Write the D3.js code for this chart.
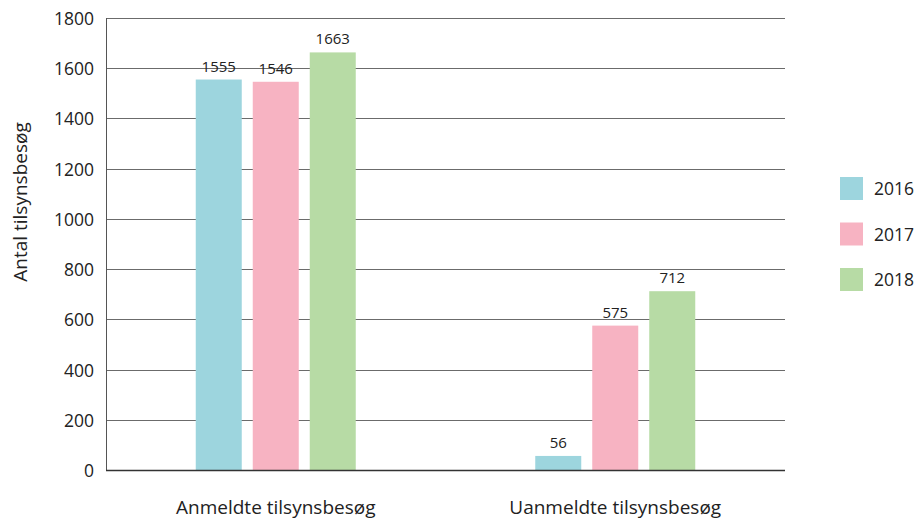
<!DOCTYPE html>
<html>
<head>
<meta charset="utf-8">
<script src="https://cdn.jsdelivr.net/npm/d3@7"></script>
<style>
  body { margin: 0; background: #fff; }
  svg { display: block; font-family: "Open Sans", "Noto Sans", sans-serif; }
</style>
</head>
<body>
<svg id="chart" width="920" height="518"></svg>
<script>
// Data
const categories = ["Anmeldte tilsynsbesøg", "Uanmeldte tilsynsbesøg"];
const years = ["2016", "2017", "2018"];
const values2016 = [1555, 56];
const values2017 = [1546, 575];
const values2018 = [1663, 712];
const yTicks = [0, 200, 400, 600, 800, 1000, 1200, 1400, 1600, 1800];

const seriesValues = { "2016": values2016, "2017": values2017, "2018": values2018 };
const colorScale = d3.scaleOrdinal().domain(years).range(["#9dd5de", "#f7b3c2", "#b7dba5"]);

const svg = d3.select("#chart");
const margin = { top: 18, right: 135, bottom: 48, left: 106 };
const width = 920, height = 518;
const innerWidth = width - margin.left - margin.right;
const innerHeight = height - margin.top - margin.bottom;

const chart = svg.append("g").attr("transform", `translate(${margin.left},${margin.top})`);

const y = d3.scaleLinear().domain([0, 1800]).range([innerHeight, 0]);
const x0 = d3.scaleBand().domain(categories).range([0, innerWidth]).padding(0);
const x1 = d3.scaleBand().domain(years).range([-80, 80]).paddingInner(11 / 57).paddingOuter(0);

// Gridlines
chart.append("g")
  .selectAll("line")
  .data(yTicks)
  .join("line")
  .attr("x1", 0)
  .attr("x2", innerWidth)
  .attr("y1", d => Math.round(y(d)) + 0.5)
  .attr("y2", d => Math.round(y(d)) + 0.5)
  .attr("stroke", "#6b6b6b")
  .attr("stroke-width", 1);

// Left axis line
chart.append("line")
  .attr("x1", 0.5).attr("x2", 0.5)
  .attr("y1", 0).attr("y2", innerHeight)
  .attr("stroke", "#555");

// Y tick labels
chart.append("g")
  .selectAll("text")
  .data(yTicks)
  .join("text")
  .attr("x", -12)
  .attr("y", d => y(d) + 7)
  .attr("text-anchor", "end")
  .attr("fill", "#222")
  .attr("font-size", 17.5)
  .text(d => d);

// Bars
const groups = chart.selectAll(".grp")
  .data(categories)
  .join("g")
  .attr("class", "grp")
  .attr("transform", d => `translate(${x0(d) + x0.bandwidth() / 2},0)`);

groups.each(function (cat, ci) {
  const g = d3.select(this);
  years.forEach(yr => {
    const v = seriesValues[yr][ci];
    g.append("rect")
      .attr("x", x1(yr))
      .attr("width", x1.bandwidth())
      .attr("y", y(v))
      .attr("height", y(0) - y(v))
      .attr("fill", colorScale(yr));
    g.append("text")
      .attr("x", x1(yr) + x1.bandwidth() / 2)
      .attr("y", y(v) - 8)
      .attr("text-anchor", "middle")
      .attr("fill", "#222")
      .attr("font-size", 15)
      .text(v);
  });
});

// Baseline
chart.append("line")
  .attr("x1", 0).attr("x2", innerWidth)
  .attr("y1", Math.round(y(0)) + 0.5).attr("y2", Math.round(y(0)) + 0.5)
  .attr("stroke", "#333")
  .attr("stroke-width", 1.5);

// Category labels
chart.append("g")
  .selectAll("text")
  .data(categories)
  .join("text")
  .attr("x", d => x0(d) + x0.bandwidth() / 2)
  .attr("y", innerHeight + 44)
  .attr("text-anchor", "middle")
  .attr("fill", "#222")
  .attr("font-size", 19)
  .text(d => d);

// Y axis title
svg.append("text")
  .attr("transform", "translate(27,202) rotate(-90)")
  .attr("text-anchor", "middle")
  .attr("fill", "#222")
  .attr("font-size", 19)
  .text("Antal tilsynsbesøg");

// Legend
const legend = svg.append("g").attr("transform", "translate(840,177)");
const items = legend.selectAll("g")
  .data(years)
  .join("g")
  .attr("transform", (_, i) => `translate(0,${i * 45.5})`);
items.append("rect")
  .attr("width", 23)
  .attr("height", 23)
  .attr("fill", d => colorScale(d));
items.append("text")
  .attr("x", 34)
  .attr("y", 18)
  .attr("fill", "#222")
  .attr("font-size", 17.5)
  .text(d => d);
</script>
</body>
</html>
